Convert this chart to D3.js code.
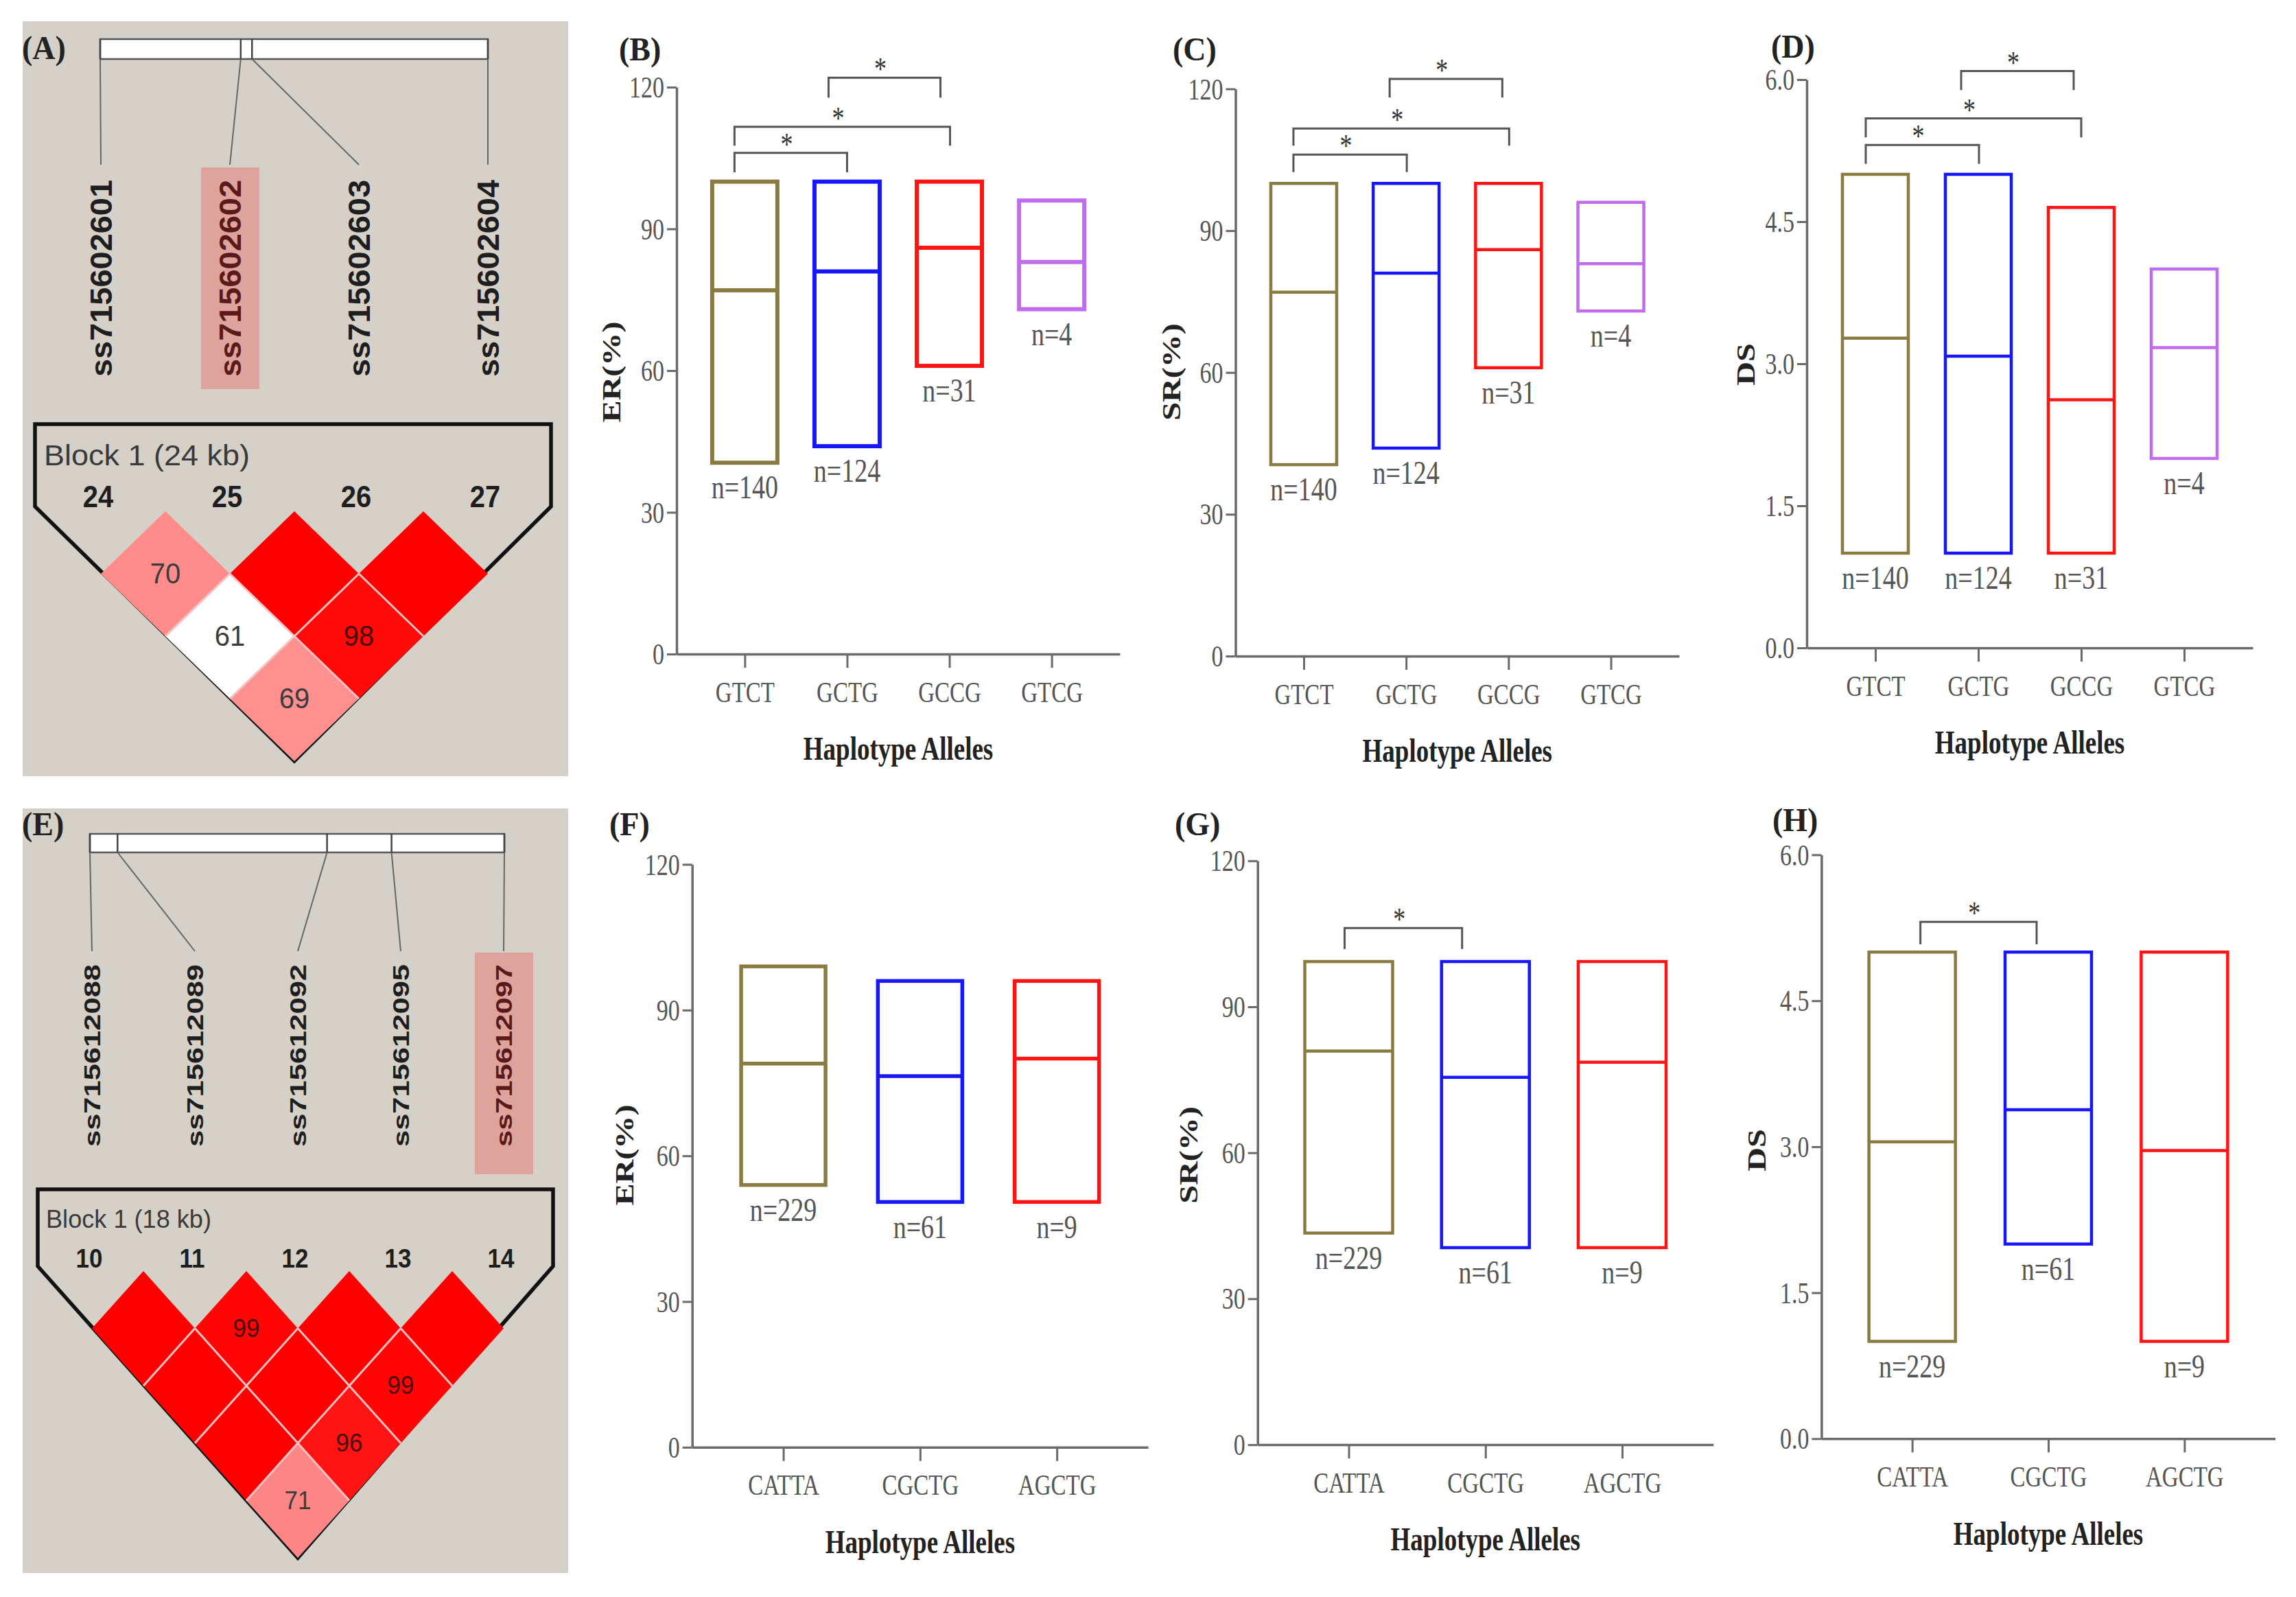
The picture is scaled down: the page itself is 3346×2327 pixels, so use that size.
<!DOCTYPE html>
<html>
<head>
<meta charset="utf-8">
<script src="https://cdn.jsdelivr.net/npm/d3@7.9.0/dist/d3.min.js"></script>
<style>
  body { margin: 0; background: #fff; }
  svg { display: block; }
</style>
</head>
<body>
<svg id="fig" width="3346" height="2327"></svg>
<script>
// ---- data ----
const allelesTop = ['GTCT', 'GCTG', 'GCCG', 'GTCG'];
const nTop = [140, 124, 31, 4];
const erTopMin = [40.5, 44, 61, 73];
const erTopMed = [77, 81, 86, 83];
const erTopMax = [100, 100, 100, 96];
const srTopMin = [40.5, 44, 61, 73];
const srTopMed = [77, 81, 86, 83];
const srTopMax = [100, 100, 100, 96];
const dsTopMin = [1.0, 1.0, 1.0, 2.0];
const dsTopMed = [3.27, 3.08, 2.62, 3.17];
const dsTopMax = [5.0, 5.0, 4.65, 4.0];

const allelesBot = ['CATTA', 'CGCTG', 'AGCTG'];
const nBot = [229, 61, 9];
const erBotMin = [54, 50.5, 50.5];
const erBotMed = [79, 76.4, 80];
const erBotMax = [99, 96, 96];
const srBotMin = [43.5, 40.5, 40.5];
const srBotMed = [80.9, 75.5, 78.6];
const srBotMax = [99.3, 99.3, 99.3];
const dsBotMin = [1.0, 2.0, 1.0];
const dsBotMed = [3.05, 3.38, 2.96];
const dsBotMax = [5.0, 5.0, 5.0];

// significance brackets: [group a, group b, bar level, leg end]
const sigErTop = [['GTCT', 'GCTG', 106.1, 102], ['GTCT', 'GCCG', 111.6, 107.6], ['GCTG', 'GCCG', 122, 117.8]];
const sigSrTop = [['GTCT', 'GCTG', 106.1, 102.4], ['GTCT', 'GCCG', 111.6, 108], ['GCTG', 'GCCG', 122.1, 118.2]];
const sigDsTop = [['GTCT', 'GCTG', 5.31, 5.11], ['GTCT', 'GCCG', 5.59, 5.39], ['GCTG', 'GCCG', 6.09, 5.89]];
const sigSrBot = [['CATTA', 'CGCTG', 106.2, 101.9]];
const sigDsBot = [['CATTA', 'CGCTG', 5.31, 5.08]];

const pctTicks = [0, 30, 60, 90, 120];
const dsTicks = [0, 1.5, 3.0, 4.5, 6.0];

// LD blocks (Haploview)
const markersA = ['ss715602601', 'ss715602602', 'ss715602603', 'ss715602604'];
const markerNumA = ['24', '25', '26', '27'];
const markerKbA = [0, 8.7, 9.4, 24];
// [i, j, D' x100, LOD >= 2]
const ldA = [[0, 1, 70, 1], [1, 2, 100, 1], [2, 3, 100, 1], [0, 2, 61, 0], [1, 3, 98, 1], [0, 3, 69, 1]];

const markersE = ['ss715612088', 'ss715612089', 'ss715612092', 'ss715612095', 'ss715612097'];
const markerNumE = ['10', '11', '12', '13', '14'];
const markerKbE = [0, 1.2, 10.3, 13.1, 18];
const ldE = [[0, 1, 100, 1], [1, 2, 99, 1], [2, 3, 100, 1], [3, 4, 100, 1],
             [0, 2, 100, 1], [1, 3, 100, 1], [2, 4, 99, 1],
             [0, 3, 100, 1], [1, 4, 96, 1],
             [0, 4, 71, 1]];

// ---- style ----
const serif = '"Liberation Serif", "Times New Roman", serif';
const sans = '"Liberation Sans", Arial, sans-serif';
const stretch = 1.3;
const alleleColors = ['#8a7b40', '#1616ff', '#ff1414', '#c06cee'];
const axisColor = '#6a6a6a';

const svg = d3.select('#fig');

function stext(g, x, y, str, size, opts = {}) {
  const rot = opts.rotate ? ' rotate(-90)' : '';
  return g.append('text')
    .attr('transform', `translate(${x},${y}) scale(1,${opts.k || stretch})${rot}`)
    .attr('font-family', opts.family || serif)
    .attr('font-size', size)
    .attr('font-weight', opts.bold ? 'bold' : 'normal')
    .attr('fill', opts.fill || '#555')
    .attr('text-anchor', opts.anchor || 'middle')
    .attr('dominant-baseline', opts.baseline || 'central')
    .text(str);
}

function boxPanel(cfg) {
  const g = svg.append('g');
  const x = d3.scalePoint().domain(cfg.cats).range([cfg.x0, cfg.x1]).padding(2 / 3);
  const y = d3.scaleLinear().domain([0, cfg.ymax]).range([cfg.yb, cfg.yt]);

  // y axis
  const ya = g.append('g')
    .attr('transform', `translate(${cfg.x0},0)`)
    .call(d3.axisLeft(y).tickValues(cfg.ticks).tickFormat(cfg.fmt).tickSize(14).tickSizeOuter(0));
  ya.select('.domain').attr('stroke', axisColor).attr('stroke-width', 3.5);
  ya.selectAll('.tick line').attr('stroke', axisColor).attr('stroke-width', 3);
  ya.selectAll('.tick text')
    .attr('x', 0).attr('dy', null)
    .attr('transform', 'translate(-18,0) scale(1,1.3)')
    .attr('dominant-baseline', 'central')
    .attr('font-family', serif).attr('font-size', 34).attr('fill', '#555');

  // x axis
  const xa = g.append('g')
    .attr('transform', `translate(0,${cfg.yb})`)
    .call(d3.axisBottom(x).tickSize(20).tickSizeOuter(0));
  xa.select('.domain').attr('stroke', axisColor).attr('stroke-width', 3.5);
  xa.selectAll('.tick line').attr('stroke', axisColor).attr('stroke-width', 3);
  xa.selectAll('.tick text')
    .attr('y', 0).attr('dy', null)
    .attr('transform', 'translate(0,55) scale(1,1.3)')
    .attr('dominant-baseline', 'central')
    .attr('font-family', serif).attr('font-size', 33).attr('fill', '#555');

  // floating boxes (min, median, max)
  cfg.cats.forEach((c, i) => {
    const cx = x(c), w = cfg.boxW;
    g.append('rect')
      .attr('x', cx - w / 2).attr('y', y(cfg.max[i]))
      .attr('width', w).attr('height', y(cfg.min[i]) - y(cfg.max[i]))
      .attr('fill', 'none').attr('stroke', alleleColors[i]).attr('stroke-width', cfg.sw);
    g.append('line')
      .attr('x1', cx - w / 2).attr('x2', cx + w / 2)
      .attr('y1', y(cfg.med[i])).attr('y2', y(cfg.med[i]))
      .attr('stroke', alleleColors[i]).attr('stroke-width', cfg.sw);
    stext(g, cx, y(cfg.min[i]) + 36, 'n=' + cfg.n[i], 38);
  });

  // significance brackets
  (cfg.sig || []).forEach((s, k) => {
    const nd = cfg.nudge[k];
    const xa0 = x(s[0]) + nd[0], xb0 = x(s[1]) + nd[1];
    g.append('path')
      .attr('d', `M${xa0},${y(s[3])}V${y(s[2])}H${xb0}V${y(s[3])}`)
      .attr('fill', 'none').attr('stroke', '#555').attr('stroke-width', 3);
    stext(g, (xa0 + xb0) / 2 - 6, y(s[2]) + 3, '*', 36, { baseline: 'auto', fill: '#333' });
  });

  // titles
  stext(g, cfg.letter[0], cfg.letter[1], cfg.label, 46, { bold: true, fill: '#222', anchor: 'start', k: 1.05 });
  stext(g, cfg.ytitle[0], cfg.ytitle[1], cfg.ylab, 37, { bold: true, fill: '#222', rotate: true });
  stext(g, (cfg.x0 + cfg.x1) / 2, cfg.yb + 138, 'Haplotype Alleles', 37, { bold: true, fill: '#222' });
}

function ldColor(v, lod) {
  if (v >= 100) return '#ff0000';
  if (!lod) return '#ffffff';
  return d3.scaleLinear().domain([45, 100]).range(['#ffffff', '#ff0000'])(v);
}

function ldPanel(cfg) {
  const g = svg.append('g');
  g.append('rect')
    .attr('x', cfg.bg[0]).attr('y', cfg.bg[1])
    .attr('width', cfg.bg[2] - cfg.bg[0]).attr('height', cfg.bg[3] - cfg.bg[1])
    .attr('fill', '#d5d1c9');
  stext(g, cfg.letter[0], cfg.letter[1], cfg.label, 46, { bold: true, fill: '#222', anchor: 'start', k: 1.05 });

  const n = cfg.markers.length;
  const kb = d3.scaleLinear().domain([0, d3.max(cfg.kb)]).range([cfg.bar[0], cfg.bar[1]]);
  const col = d3.scalePoint().domain(d3.range(n)).range([cfg.col[0], cfg.col[1]]);
  const step = col(1) - col(0);

  // physical map bar
  g.append('rect')
    .attr('x', cfg.bar[0]).attr('y', cfg.bar[2])
    .attr('width', cfg.bar[1] - cfg.bar[0]).attr('height', cfg.bar[3] - cfg.bar[2])
    .attr('fill', '#fff').attr('stroke', '#555').attr('stroke-width', 2.5);
  cfg.kb.forEach((k, i) => {
    g.append('line')
      .attr('x1', kb(k)).attr('x2', kb(k)).attr('y1', cfg.bar[2]).attr('y2', cfg.bar[3])
      .attr('stroke', '#444').attr('stroke-width', 2.5);
    g.append('line')
      .attr('x1', kb(k)).attr('y1', cfg.bar[3]).attr('x2', col(i)).attr('y2', cfg.connY)
      .attr('stroke', '#666').attr('stroke-width', 2);
  });

  // highlighted marker
  const hi = cfg.markers.indexOf(cfg.highlight);
  g.append('rect')
    .attr('x', col(hi) - 42).attr('y', cfg.hiY[0])
    .attr('width', 85).attr('height', cfg.hiY[1] - cfg.hiY[0])
    .attr('fill', '#dea39d');

  // marker names
  cfg.markers.forEach((m, i) => {
    g.append('text')
      .attr('transform', `translate(${col(i)},${cfg.nameY}) rotate(-90)`)
      .attr('font-family', sans).attr('font-weight', 'bold')
      .attr('font-size', cfg.nameSize).attr('fill', i === hi ? '#5a1a1a' : '#1e1e1e')
      .attr('dominant-baseline', 'central')
      .attr('textLength', cfg.nameLen).attr('lengthAdjust', 'spacingAndGlyphs')
      .text(m);
  });

  // block outline
  const o = cfg.outline;
  const vx = (col(0) + col(n - 1)) / 2;
  g.append('path')
    .attr('d', `M${o.left},${o.top}H${o.right}V${o.side}L${vx},${o.vertex}L${o.left},${o.side}Z`)
    .attr('fill', 'none').attr('stroke', '#111').attr('stroke-width', 5.5).attr('stroke-linejoin', 'miter');
  g.append('text')
    .attr('x', cfg.blockPos[0]).attr('y', cfg.blockPos[1])
    .attr('font-family', sans).attr('font-size', cfg.blockSize).attr('fill', '#3a3a3a')
    .attr('textLength', cfg.blockLen).attr('lengthAdjust', 'spacingAndGlyphs')
    .text(cfg.blockText);
  cfg.nums.forEach((t, i) => {
    stext(g, col(i) - 4, cfg.numY, t, cfg.numSize, { family: sans, bold: true, fill: '#1e1e1e', k: 1.1 });
  });

  // LD diamonds
  const hw = step / 2, hh = cfg.hh;
  const has = (i, j) => cfg.ld.some(d => d[0] === i && d[1] === j);
  cfg.ld.forEach(([i, j, v, lod]) => {
    const cx = (col(i) + col(j)) / 2, cy = cfg.diamTop + (j - i) * hh;
    g.append('polygon')
      .attr('points', [[cx, cy - hh], [cx + hw, cy], [cx, cy + hh], [cx - hw, cy]].map(p => p.join(',')).join(' '))
      .attr('fill', ldColor(v, lod));
  });
  // light separators on shared edges only
  cfg.ld.forEach(([i, j]) => {
    const cx = (col(i) + col(j)) / 2, cy = cfg.diamTop + (j - i) * hh;
    if (has(i, j + 1)) {
      g.append('line').attr('x1', cx + hw).attr('y1', cy).attr('x2', cx).attr('y2', cy + hh)
        .attr('stroke', '#f3c2c2').attr('stroke-width', 3);
    }
    if (has(i - 1, j)) {
      g.append('line').attr('x1', cx - hw).attr('y1', cy).attr('x2', cx).attr('y2', cy + hh)
        .attr('stroke', '#f3c2c2').attr('stroke-width', 3);
    }
  });
  cfg.ld.forEach(([i, j, v]) => {
    if (v < 100) {
      const cx = (col(i) + col(j)) / 2, cy = cfg.diamTop + (j - i) * hh;
      stext(g, cx, cy, v, cfg.cellSize, { family: sans, fill: v >= 90 ? '#4a0c0c' : '#3c3c3c', k: 1.05 });
    }
  });
}

// ---- panels ----
ldPanel({
  label: '(A)', letter: [32, 70], bg: [33, 31, 828, 1131],
  markers: markersA, kb: markerKbA, highlight: 'ss715602602',
  bar: [146, 711, 57, 86], col: [147, 711], connY: 240, hiY: [244, 567],
  nameY: 549, nameSize: 44, nameLen: 287,
  outline: { left: 51, right: 803, top: 618, side: 738, vertex: 1109 },
  blockText: 'Block 1 (24 kb)', blockPos: [64, 678], blockSize: 42, blockLen: 300,
  nums: markerNumA, numY: 724, numSize: 40,
  ld: ldA, diamTop: 745, hh: 91, cellSize: 40
});

ldPanel({
  label: '(E)', letter: [32, 1201], bg: [33, 1178, 828, 2292],
  markers: markersE, kb: markerKbE, highlight: 'ss715612097',
  bar: [131, 735, 1215, 1242], col: [134, 734], connY: 1386, hiY: [1388, 1711],
  nameY: 1671, nameSize: 33, nameLen: 266,
  outline: { left: 55, right: 806, top: 1733, side: 1845, vertex: 2270 },
  blockText: 'Block 1 (18 kb)', blockPos: [67, 1789], blockSize: 37, blockLen: 241,
  nums: markerNumE, numY: 1834, numSize: 35,
  ld: ldE, diamTop: 1852, hh: 83.6, cellSize: 35
});

const pctFmt = d3.format('d');
const dsFmt = d3.format('.1f');

boxPanel({ label: '(B)', letter: [902, 72], ylab: 'ER(%)', ytitle: [891, 542],
  cats: allelesTop, n: nTop, min: erTopMin, med: erTopMed, max: erTopMax,
  x0: 986, x1: 1632, yt: 127, yb: 953, ymax: 120, ticks: pctTicks, fmt: pctFmt,
  boxW: 95, sw: 6, sig: sigErTop, nudge: [[-15, 0], [-15, 1], [-27, -13]] });

boxPanel({ label: '(C)', letter: [1709, 72], ylab: 'SR(%)', ytitle: [1707, 542],
  cats: allelesTop, n: nTop, min: srTopMin, med: srTopMed, max: srTopMax,
  x0: 1800.5, x1: 2447, yt: 129.5, yb: 956, ymax: 120, ticks: pctTicks, fmt: pctFmt,
  boxW: 96, sw: 4.5, sig: sigSrTop, nudge: [[-15, 1], [-15, 1], [-24, -9]] });

boxPanel({ label: '(D)', letter: [2581, 68], ylab: 'DS', ytitle: [2544, 531],
  cats: allelesTop, n: nTop, min: dsTopMin, med: dsTopMed, max: dsTopMax,
  x0: 2633, x1: 3283, yt: 116, yb: 944, ymax: 6, ticks: dsTicks, fmt: dsFmt,
  boxW: 96, sw: 4.5, sig: sigDsTop, nudge: [[-14, 1], [-14, 0], [-25, -11]] });

boxPanel({ label: '(F)', letter: [888, 1201], ylab: 'ER(%)', ytitle: [910, 1683],
  cats: allelesBot, n: nBot, min: erBotMin, med: erBotMed, max: erBotMax,
  x0: 1008.7, x1: 1673, yt: 1259.5, yb: 2108.8, ymax: 120, ticks: pctTicks, fmt: pctFmt,
  boxW: 123, sw: 5.5, sig: [], nudge: [] });

boxPanel({ label: '(G)', letter: [1712, 1201], ylab: 'SR(%)', ytitle: [1732, 1683],
  cats: allelesBot, n: nBot, min: srBotMin, med: srBotMed, max: srBotMax,
  x0: 1832.7, x1: 2496.8, yt: 1254.3, yb: 2105.1, ymax: 120, ticks: pctTicks, fmt: pctFmt,
  boxW: 128, sw: 4.5, sig: sigSrBot, nudge: [[-6, -34]] });

boxPanel({ label: '(H)', letter: [2583, 1195], ylab: 'DS', ytitle: [2560, 1676],
  cats: allelesBot, n: nBot, min: dsBotMin, med: dsBotMed, max: dsBotMax,
  x0: 2654.4, x1: 3315.6, yt: 1245.5, yb: 2096.3, ymax: 6, ticks: dsTicks, fmt: dsFmt,
  boxW: 126, sw: 4.5, sig: sigDsBot, nudge: [[12, -17]] });
</script>
</body>
</html>
